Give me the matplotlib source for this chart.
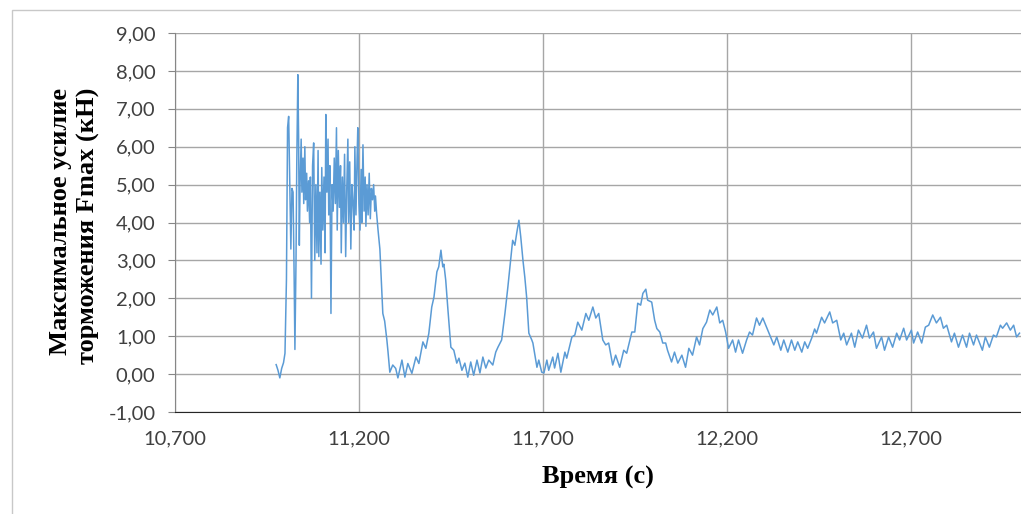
import numpy as np
import matplotlib
matplotlib.use('Agg')
import matplotlib.pyplot as plt
from matplotlib.ticker import FuncFormatter
from matplotlib.patches import Rectangle

# Торможение: всплеск усилия (время, с / усилие, кН)
t_burst = [10975, 10980, 10985, 10990, 10995, 10999, 11003, 11006, 11009, 11012,
           11015, 11018, 11021, 11024, 11026, 11029, 11031, 11034, 11036, 11038,
           11040, 11043, 11045, 11048, 11050, 11053, 11055, 11058, 11060, 11063,
           11066, 11068, 11071, 11074, 11077, 11080, 11083, 11086, 11089, 11091,
           11094, 11097, 11099, 11102, 11105, 11108, 11110, 11113, 11116, 11118,
           11121, 11124, 11127, 11130, 11133, 11136, 11139, 11141, 11144, 11147,
           11150, 11152, 11155, 11158, 11161, 11164, 11167, 11170, 11172, 11175,
           11178, 11181, 11184, 11187, 11189, 11192, 11195, 11197, 11200, 11203,
           11206, 11208, 11211, 11214, 11217, 11219, 11222, 11225, 11228, 11231,
           11234, 11237, 11240, 11243, 11245, 11248, 11252, 11257, 11262, 11265,
           11270, 11276, 11279, 11284]
f_burst = [0.25, 0.1, -0.1, 0.15, 0.3, 0.55, 2.5, 6.5, 6.8, 5.0,
           3.3, 4.9, 4.8, 2.5, 0.65, 3.0, 5.5, 7.9, 6.3, 3.4,
           5.0, 6.2, 4.8, 5.7, 4.5, 6.0, 4.6, 5.3, 4.3, 5.1,
           4.0, 5.2, 2.0, 5.5, 6.1, 3.0, 5.0, 3.2, 5.9, 3.1,
           4.8, 2.9, 5.45, 3.8, 5.2, 3.2, 6.85, 4.8, 6.2, 4.2,
           5.5, 1.6, 5.0, 4.3, 5.7, 4.5, 6.5, 3.8, 5.9, 4.4,
           5.5, 3.2, 5.2, 4.0, 5.8, 3.1, 4.9, 6.2, 4.0, 5.6,
           3.3, 5.0, 4.5, 3.8, 6.0, 4.2, 5.7, 6.5, 4.5, 3.8,
           5.4, 4.0, 6.05, 4.3, 5.2, 3.9, 5.0, 4.2, 5.3, 4.1,
           4.9, 4.6, 5.0, 4.3, 4.7, 4.25, 3.8, 3.3, 2.2, 1.6,
           1.4, 0.9, 0.6, 0.05]

# Затухающие колебания после всплеска
t_waves = [11292, 11300, 11306, 11317, 11325, 11333, 11344, 11355, 11363, 11374,
           11382, 11390, 11398, 11404, 11412, 11417, 11423, 11428, 11431, 11436,
           11442, 11450, 11458, 11466, 11472, 11480, 11488, 11496, 11504, 11512,
           11521, 11529, 11537, 11545, 11553, 11564, 11572, 11578, 11588, 11597,
           11605, 11616, 11618, 11624, 11629, 11635, 11640, 11646, 11651, 11656,
           11662, 11670, 11673, 11684, 11689, 11697, 11703, 11711, 11716, 11727,
           11732, 11741, 11749, 11760, 11765, 11779, 11787, 11795, 11806, 11817,
           11825, 11836, 11844, 11852, 11863, 11871, 11879, 11890, 11898, 11909,
           11920, 11928, 11942, 11950, 11958, 11966, 11972, 11980, 11985, 11996,
           12004, 12010, 12018, 12026, 12034, 12039, 12050, 12058, 12067, 12078,
           12088, 12097, 12107, 12118, 12126, 12135, 12145, 12154, 12162, 12173,
           12181, 12189, 12197, 12205, 12216, 12224, 12232, 12243, 12254, 12262,
           12270, 12281, 12289, 12298, 12308, 12317, 12328, 12336, 12347, 12355,
           12366, 12376, 12385, 12393, 12404, 12412, 12420, 12431, 12439, 12444,
           12458, 12466, 12480, 12488, 12499, 12510, 12518, 12526, 12539, 12548,
           12558, 12569, 12580, 12588, 12599, 12607, 12621, 12629, 12640, 12651,
           12662, 12670, 12681, 12689, 12702, 12708, 12719, 12730, 12740, 12749,
           12760, 12770, 12781, 12789, 12798, 12811, 12819, 12830, 12841, 12852,
           12860, 12871, 12879, 12895, 12903, 12914, 12925, 12933, 12944, 12950,
           12961, 12971, 12980, 12988, 12996]
f_waves = [0.24, 0.15, -0.1, 0.37, -0.08, 0.28, 0.02, 0.45, 0.28, 0.85,
           0.68, 1.07, 1.77, 2.03, 2.7, 2.83, 3.27, 2.83, 2.9, 2.48,
           1.7, 0.71, 0.63, 0.29, 0.42, 0.1, 0.29, -0.08, 0.32, -0.03,
           0.37, 0.03, 0.45, 0.16, 0.37, 0.24, 0.58, 0.71, 0.9, 1.6,
           2.3, 3.35, 3.53, 3.4, 3.72, 4.06, 3.62, 3.0, 2.56, 2.03,
           1.08, 0.9, 0.82, 0.18, 0.37, 0.05, 0.03, 0.37, 0.1, 0.45,
           0.16, 0.55, 0.05, 0.58, 0.42, 0.98, 1.03, 1.37, 1.16, 1.6,
           1.42, 1.77, 1.48, 1.6, 0.9, 0.77, 0.82, 0.24, 0.5, 0.18,
           0.63, 0.55, 1.11, 1.11, 1.87, 1.82, 2.13, 2.24, 1.95, 1.9,
           1.42, 1.2, 1.11, 0.82, 0.82, 0.63, 0.32, 0.58, 0.29, 0.5,
           0.18, 0.68, 0.5, 0.98, 0.77, 1.2, 1.37, 1.69, 1.56, 1.77,
           1.35, 1.42, 1.11, 0.68, 0.9, 0.58, 0.9, 0.55, 0.9, 1.11,
           1.03, 1.48, 1.29, 1.48, 1.24, 1.03, 0.77, 0.98, 0.63, 0.9,
           0.58, 0.9, 0.63, 0.85, 0.58, 0.85, 0.68, 0.95, 1.19, 1.08,
           1.5, 1.35, 1.64, 1.35, 1.42, 0.9, 1.08, 0.77, 1.08, 0.71,
           1.16, 0.95, 1.29, 0.95, 1.11, 0.68, 0.98, 0.63, 0.98, 0.71,
           1.08, 0.9, 1.21, 0.9, 1.16, 0.82, 1.11, 0.82, 1.24, 1.29,
           1.56, 1.35, 1.5, 1.21, 1.29, 0.85, 1.08, 0.71, 1.03, 0.71,
           1.08, 0.77, 1.03, 0.63, 0.98, 0.71, 1.03, 0.98, 1.29, 1.21,
           1.35, 1.16, 1.29, 0.98, 1.08]

x_ticks = [10700, 11200, 11700, 12200, 12700]
y_ticks = [-1, 0, 1, 2, 3, 4, 5, 6, 7, 8, 9]

t = np.array(t_burst + t_waves)
f = np.array(f_burst + f_waves)

W, H = 1021, 514
fig = plt.figure(figsize=(W / 100, H / 100), dpi=100)
ax = fig.add_axes([175 / W, 1 - 412 / H, 1 - 175 / W, (412 - 33) / H])

ax.plot(t, f, color="#5b9bd5", linewidth=1.1)

ax.set_xlim(10700, 13000)
ax.set_ylim(-1, 9)
ax.set_xticks(x_ticks)
ax.set_yticks(y_ticks)
ax.xaxis.set_major_formatter(FuncFormatter(lambda v, p: f"{int(v):,}"))
ax.yaxis.set_major_formatter(FuncFormatter(lambda v, p: f"{v:.2f}".replace(".", ",")))

ax.grid(True, color="#a6a6a6", linewidth=1.0)
ax.set_axisbelow(True)
for s in ["top", "right"]:
    ax.spines[s].set_visible(False)
ax.spines["left"].set_color("#868686")
ax.spines["bottom"].set_color("#262626")

ax.tick_params(axis="y", length=5, color="#868686", pad=9, labelsize=14.5,
               labelcolor="#404040", labelfontfamily="Lato")
ax.tick_params(axis="x", length=0, pad=13, labelsize=14.5,
               labelcolor="#404040", labelfontfamily="Lato")

# подписи осей
fig.text(598 / W, 1 - 477 / H, "Время (с)", ha="center", va="center",
         fontsize=19, fontweight="bold", family="Liberation Serif")
fig.text(60 / W, 1 - 88 / H, "Максимальное усилие", rotation=90,
         ha="center", va="top", fontsize=19, fontweight="bold",
         family="Liberation Serif")
fig.text(88 / W, 1 - 88 / H, "торможения Fmax (кН)", rotation=90,
         ha="center", va="top", fontsize=19, fontweight="bold",
         family="Liberation Serif")

# рамка области диаграммы
fig.add_artist(Rectangle((12 / W, -0.1), 2, 1.1 - 10 / H, transform=fig.transFigure,
                         fill=False, edgecolor="#c8c8c8", linewidth=1))

plt.savefig("out.png", dpi=100)
plt.close()
